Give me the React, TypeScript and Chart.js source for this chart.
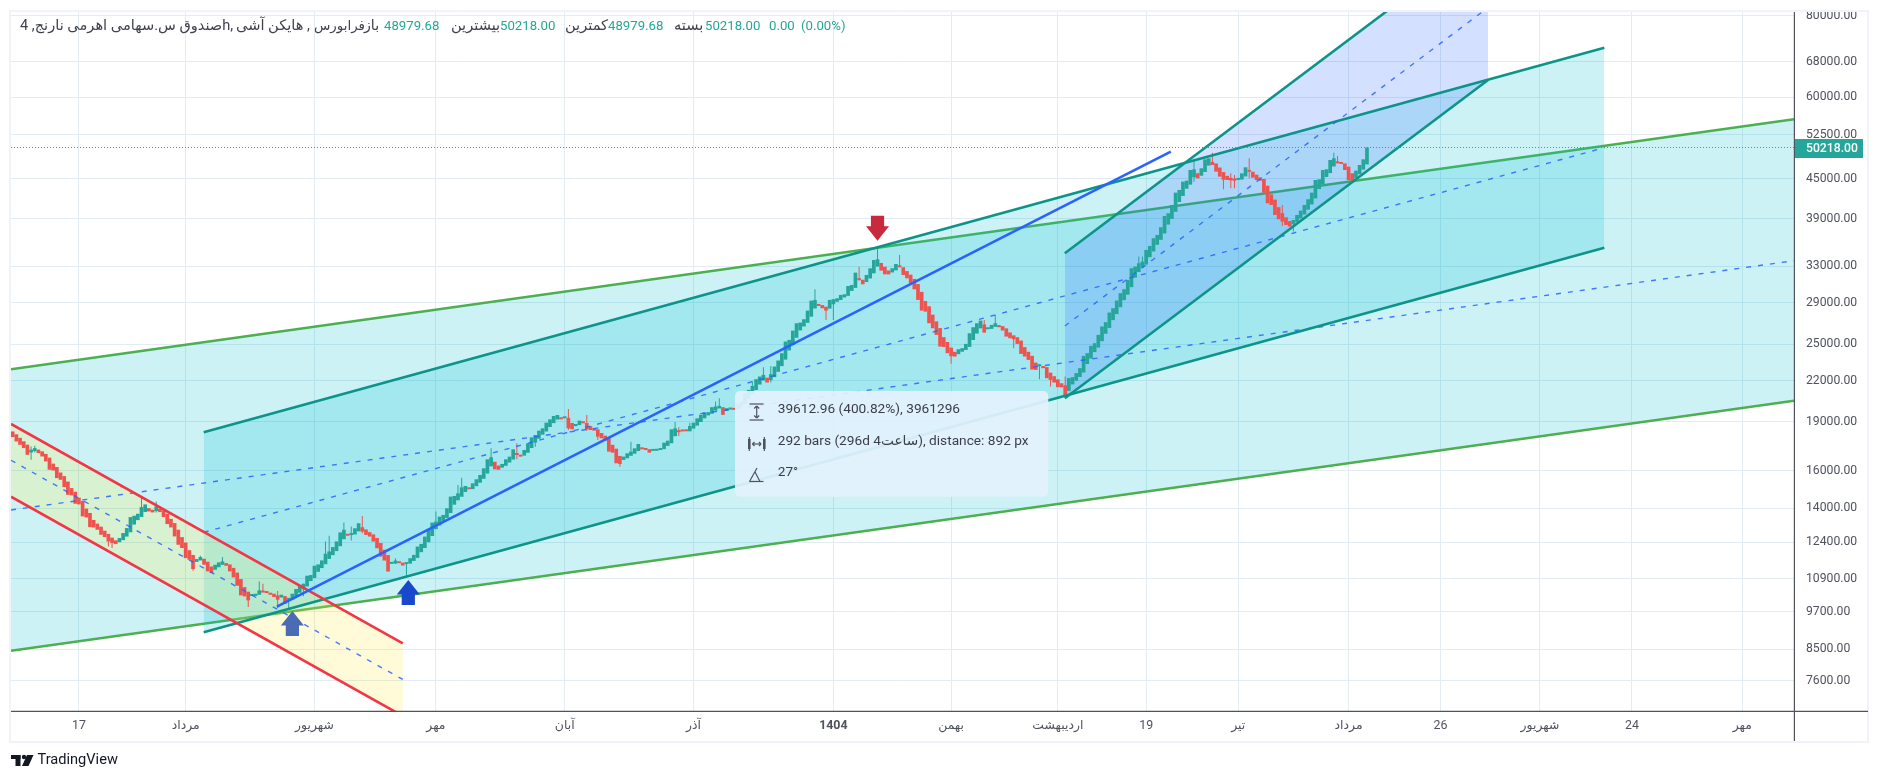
import React, { useEffect, useRef } from "react";
import { Chart, registerables } from "chart.js";

Chart.register(...registerables);

// ---------- values ----------
const firstOpen = 18370;
const closes = [
  18005, 17730, 17523, 17318, 16913, 17053, 17318, 17013, 16814, 16520, 16039, 16000, 15573, 15481, 15085, 14680, 14646, 14220, 14187, 13597,
  13549, 13093, 13078, 12970, 12742, 12637, 12445, 12372, 12328, 12593, 12818, 13047, 13565, 13629, 13726, 14054, 14187, 13840, 13791, 14087,
  13807, 13565, 13233, 13078, 12667, 12299, 12155, 11732, 11663, 11285, 11691, 11774, 11458, 11192, 11126, 11458, 11553, 11594, 11418, 11192,
  10956, 10638, 10280, 10244, 10100, 10268, 10341, 10463, 10402, 10365, 10304, 10220, 10124, 10304, 9982, 10148, 10341, 10513, 10638, 10714,
  11021, 11047, 11418, 11472, 11636, 11914, 12012, 12198, 12445, 12848, 12970, 12697,
  12780, 13039, 13271, 12886, 12735, 12660, 12438, 12148, 11795, 11630, 11185, 11493, 11630, 11520, 11426, 11520, 11726, 11865,
  12220, 12336, 12660, 12962, 13302, 13350, 13588, 13669, 13995, 14585, 14619, 14758, 15075, 15146, 14968, 15289, 15507, 15747, 16123, 16645,
  16763, 16065, 16040, 16373, 16645, 16803, 17244, 16902, 16803, 17204, 17614, 17993, 18142, 18422, 18576, 18951, 19176, 19404, 19473, 19176,
  19312, 18576, 18510, 18862, 19086, 18907, 18510, 18466, 18422, 18035, 17930, 17782, 17103, 17042, 16411, 16373, 16803, 17002, 17103, 17306,
  17573, 17244, 17204, 17042, 17163, 17244, 17306, 17656, 17782, 18510, 18576, 18422, 18400, 18378, 18730, 18951, 19244, 19490,
  19646, 19670, 20020, 20067, 20115, 19485, 19950, 19996, 19832, 20257, 20425, 21036, 21286, 21589, 22104, 22314, 22446, 21845, 22500, 23118,
  23614, 24234, 25255, 25405, 26258, 26948, 27012, 27332, 28183, 29198, 29267, 28651, 28417, 28183, 29267, 29336, 29440, 29790, 29860, 30752,
  30861, 32240, 31488, 30936, 31974, 32738, 33717, 33796, 32469, 32050, 32040, 32738, 33242, 32854, 31974, 31600, 31045, 30393, 29267, 28183,
  28083, 26948, 26476, 25858, 24813, 24780, 24234, 23980, 23950, 24580, 24668, 25048, 26011, 26570, 26948, 27204, 26072, 26382, 26790, 26948,
  26570, 26258, 25706, 25555, 25465, 25048, 24177, 23950, 23670, 22870, 22847, 23172, 22982, 22183, 22052, 21845, 21488, 21470, 20790,
  22188, 22267, 22583, 22986, 24012, 24239, 24876, 25112, 25865, 26638, 27050, 27990, 28423, 29205, 29973, 30400, 31421, 32745, 32939, 33329,
  33527, 34940, 35438, 36413, 36845, 37858, 39407, 39780, 40971, 42798, 43204, 44497, 44655, 46372, 46482, 45025, 46647, 48156, 48327, 47200,
  46100, 45291, 44800, 44760, 44700, 44650, 44866, 45828, 46812, 46100, 45130, 44760, 44655, 42798, 41213, 40971, 39547, 38945, 38625, 38172,
  37947, 38853, 39547, 40157, 40971, 41801, 42798, 44760, 44866, 46372, 46482, 48042, 48327, 47479, 47367, 46372, 44760, 44340, 46263, 47200,
  48156, 50218,
];

const wickIndex = [5, 6, 26, 27, 35, 39, 49, 51, 57, 64, 67, 68, 72, 75, 79, 85, 86, 90, 92, 95, 104, 107, 115, 121, 122, 130, 137, 142, 151, 156, 159, 165, 168, 180, 181, 184, 191, 192, 201, 204, 206, 218, 221, 223, 230, 235, 241, 255, 264, 267, 272, 279, 282, 286, 306, 307, 321, 326, 329, 331, 332, 336, 345, 348, 359, 360];
const wickHigh = [17420, 17461, 12500, 12400, 14628, 14338, 11663, 11830, 11774, 10240, 10802, 10714, 10438, 10148, 10714, 12445, 12697, 13311, 13116, 13620, 11726, 11520, 13830, 15200, 15593, 17306, 17614, 18142, 19894, 19473, 18510, 16411, 17719, 19000, 18640, 18951, 20425, 20668, 21923, 23064, 23172, 30393, 28417, 29336, 32931, 35137, 34319, 24000, 27268, 27754, 25555, 23300, 22183, 22314, 34125, 34125, 48156, 49306, 45291, 45828, 45560, 48327, 40971, 38853, 49306, 48727];
const wickLow = [16617, 17053, 12227, 12155, 13726, 13791, 11217, 11691, 11500, 9865, 10440, 10402, 9830, 9830, 10244, 11636, 11914, 12848, 12482, 12810, 11493, 11026, 13302, 14758, 15075, 16645, 16645, 17408, 18466, 18422, 17824, 16218, 17002, 18510, 18078, 18378, 20020, 20067, 21589, 22314, 21845, 29198, 27268, 27268, 31340, 33717, 32854, 23338, 26072, 26790, 24667, 22104, 21538, 20740, 32939, 33329, 44497, 47200, 43306, 43460, 43460, 45025, 38037, 37282, 48042, 47479];

const priceTicks = [80000, 68000, 60000, 52500, 45000, 39000, 33000, 29000, 25000, 22000, 19000, 16000, 14000, 12400, 10900, 9700, 8500, 7600];
const timeBars = [18, 47, 82, 115, 150, 185, 223, 255, 284, 308, 333, 363, 388, 415, 440, 470];
const timeLabels = ["17", "مرداد", "شهریور", "مهر", "آبان", "آذر", "1404", "بهمن", "اردیبهشت", "19", "تیر", "مرداد", "26", "شهریور", "24", "مهر"];

const xRange = [-0.46, 484.04];
const yRange = [6826, 81141];
const lastPrice = 50218;

// channels: bar index at each end, price at each end
const greenX = [-0.46, 484.04];
const greenTop = [22893, 55489];
const greenMid = [13909, 33630];
const greenBottom = [8451, 20484];
const tealX = [51.9, 432.5];
const tealTop = [18315, 71504];
const tealMid = [12853, 50180];
const tealBottom = [9020, 35215];
const redX = [-0.46, 106];
const redTop = [18862, 8676];
const redMid = [16587, 7632];
const redBottom = [14581, 6706];
const blueX = [285.9, 400.9];
const blueTop = [34523, 106590];
const blueMid = [26687, 82445];
const blueBottom = [20660, 63775];
const trendX = [71.8, 314.7];
const trendY = [9876, 49474];

const arrowBars = [76, 107.5, 235];
const arrowPrices = [9727, 10856, 36100];
const arrowDirs = ["up", "up", "down"];
const arrowColors = ["#4a6cb3", "#1848cc", "#c8293c"];

// text, left edge, green?, font size
const legendParts: [string, number, boolean, number][] = [
  ["صندوق س.سهامی اهرمی نارنج, 4h,", 20, false, 14.6],
  ["هایکن آشی", 236, false, 14.6],
  [",", 307, false, 14.6],
  ["فرابورس", 314, false, 13.4],
  ["باز", 364, false, 14.2],
  ["48979.68", 384, true, 13.2],
  ["بیشترین", 451, false, 14.6],
  ["50218.00", 500, true, 13.2],
  ["کمترین", 565, false, 14.6],
  ["48979.68", 608, true, 13.2],
  ["بسته", 674, false, 14.6],
  ["50218.00", 705, true, 13.2],
  ["0.00", 769, true, 13.2],
  ["(0.00%)", 801, true, 13.2],
];
const measureLines = ["39612.96 (400.82%), 3961296", "292 bars (296d 4ساعت), distance: 892 px", "27°"];

// ---------- styles ----------
const FONT = "Roboto, 'Noto Sans', 'DejaVu Sans', sans-serif";
const UP = "#26a69a";
const DOWN = "#ef5350";
const GRID = "#e2ecf2";
const TEXT = "#50535e";
const TEAL = "#0d9488";

const pts = (xs: number[], ys: number[]) => xs.map((x, i) => ({ x, y: ys[i] }));

function buildDatasets() {
  const list: any[] = [];
  const add = (ds: any) => {
    list.push({ type: "line", pointRadius: 0, tension: 0, ...ds, order: 1000 - list.length });
    return list.length - 1;
  };
  const solid = (xs: number[], ys: number[], color: string, w = 2.6) =>
    add({ data: pts(xs, ys), borderColor: color, borderWidth: w, fill: false });
  const dash = (xs: number[], ys: number[]) =>
    add({ data: pts(xs, ys), borderColor: "rgba(41,98,255,0.85)", borderWidth: 1.4, borderDash: [5, 7], fill: false });
  const band = (xs: number[], a: number[], b: number[], color: string) => {
    const lower = add({ data: pts(xs, b), borderWidth: 0, borderColor: "transparent", fill: false });
    add({ data: pts(xs, a), borderWidth: 0, borderColor: "transparent", fill: lower, backgroundColor: color });
  };

  band(greenX, greenTop, greenBottom, "rgba(0,188,212,0.2)");
  solid(greenX, greenTop, "#4caf50");
  solid(greenX, greenBottom, "#4caf50");
  band(tealX, tealTop, tealBottom, "rgba(0,188,212,0.2)");
  band(redX, redTop, redBottom, "rgba(255,235,59,0.2)");
  band(blueX, blueTop, blueBottom, "rgba(41,98,255,0.2)");

  // Heikin Ashi candles: each body opens at the middle of the previous body
  const opens: number[] = [];
  closes.forEach((_, i) => {
    opens.push(i === 0 ? firstOpen : (opens[i - 1] + closes[i - 1]) / 2);
  });
  const colorOf = (i: number) => (closes[i] >= (i === 0 ? firstOpen : closes[i - 1]) ? UP : DOWN);

  list.push({
    type: "bar",
    grouped: false,
    barThickness: 1,
    inflateAmount: 0,
    borderWidth: 0,
    data: wickIndex.map((b, i) => ({ x: b, y: [wickLow[i], wickHigh[i]] })),
    backgroundColor: wickIndex.map((b) => colorOf(b)),
    order: 1000 - list.length,
  });
  list.push({
    type: "bar",
    grouped: false,
    barThickness: 3.7,
    minBarLength: 2,
    inflateAmount: 0,
    borderWidth: 0,
    data: closes.map((c, i) => ({ x: i, y: [opens[i], c] })),
    backgroundColor: closes.map((_, i) => colorOf(i)),
    order: 1000 - list.length,
  });

  dash(greenX, greenMid);
  solid(tealX, tealTop, TEAL);
  solid(tealX, tealBottom, TEAL);
  dash(tealX, tealMid);
  solid(redX, redTop, "#f23645");
  solid(redX, redBottom, "#f23645");
  dash(redX, redMid);
  solid(blueX, blueTop, TEAL);
  solid(blueX, blueBottom, TEAL);
  dash(blueX, blueMid);
  solid(trendX, trendY, "#2962ff");
  add({ data: pts(xRange, [lastPrice, lastPrice]), borderColor: UP, borderWidth: 1, borderDash: [1, 2], fill: false });
  return list;
}

function drawArrow(ctx: CanvasRenderingContext2D, x: number, y: number, dir: string, color: string) {
  const s = dir === "up" ? 1 : -1;
  ctx.fillStyle = color;
  ctx.beginPath();
  ctx.moveTo(x, y);
  ctx.lineTo(x + 11.5, y + s * 14.5);
  ctx.lineTo(x + 6.6, y + s * 14.5);
  ctx.lineTo(x + 6.6, y + s * 25);
  ctx.lineTo(x - 6.6, y + s * 25);
  ctx.lineTo(x - 6.6, y + s * 14.5);
  ctx.lineTo(x - 11.5, y + s * 14.5);
  ctx.closePath();
  ctx.fill();
}

function drawMeasureIcons(ctx: CanvasRenderingContext2D) {
  ctx.strokeStyle = "#50535e";
  ctx.fillStyle = "#50535e";
  ctx.lineWidth = 1.2;
  const cx = 756.7;
  const seg = (a: number, b: number, c: number, d: number) => {
    ctx.beginPath();
    ctx.moveTo(a, b);
    ctx.lineTo(c, d);
    ctx.stroke();
  };
  seg(749.5, 404, 763.5, 404);
  seg(749.5, 420, 763.5, 420);
  seg(cx, 406, cx, 418);
  seg(cx - 2.5, 408.5, cx, 406);
  seg(cx + 2.5, 408.5, cx, 406);
  seg(cx - 2.5, 415.5, cx, 418);
  seg(cx + 2.5, 415.5, cx, 418);
  ctx.fillRect(748, 439, 2.6, 10);
  ctx.fillRect(763, 439, 2.6, 10);
  seg(749.3, 437, 749.3, 451);
  seg(764.3, 437, 764.3, 451);
  seg(752.5, 444, 761, 444);
  seg(752.5, 444, 754.5, 442);
  seg(752.5, 444, 754.5, 446);
  seg(761, 444, 759, 442);
  seg(761, 444, 759, 446);
  seg(749.5, 481.5, 763.5, 481.5);
  seg(749.5, 481.5, 757, 468);
  seg(755, 472, 760, 481.5);
}

const overlay = {
  id: "overlay",
  afterDatasetsDraw(chart: any) {
    const { ctx, scales } = chart;
    const x = scales.x;
    const y = scales.y;
    ctx.save();

    arrowBars.forEach((b, i) =>
      drawArrow(ctx, x.getPixelForValue(b), y.getPixelForValue(arrowPrices[i]), arrowDirs[i], arrowColors[i])
    );

    // measure box
    ctx.fillStyle = "rgba(227,242,253,0.92)";
    ctx.beginPath();
    ctx.roundRect(735, 391, 313.3, 105.7, 5);
    ctx.fill();
    drawMeasureIcons(ctx);
    ctx.fillStyle = "#3b3e49";
    ctx.font = `13.7px ${FONT}`;
    ctx.textBaseline = "middle";
    ctx.textAlign = "left";
    [410, 441.7, 472.7].forEach((ty, i) => ctx.fillText(measureLines[i], 777.7, ty));

    // legend row
    legendParts.forEach(([t, px, green, size]) => {
      ctx.font = `${size}px ${FONT}`;
      ctx.fillStyle = green ? UP : "#3f424d";
      ctx.fillText(t, px, 26.5);
    });

    // frame and axis lines
    ctx.strokeStyle = "#f0f3fa";
    ctx.lineWidth = 2;
    ctx.strokeRect(10, 11, 1858, 731);
    ctx.strokeStyle = "#50535e";
    ctx.lineWidth = 1.2;
    ctx.beginPath();
    ctx.moveTo(11, 711.3);
    ctx.lineTo(1868, 711.3);
    ctx.moveTo(1794.4, 12);
    ctx.lineTo(1794.4, 741);
    ctx.stroke();

    // last price tag
    ctx.fillStyle = UP;
    ctx.fillRect(1795, 139, 68, 19);
    ctx.fillStyle = "#ffffff";
    ctx.font = `500 12.2px ${FONT}`;
    ctx.fillText("50218.00", 1806, 148.5);

    // logo
    ctx.fillStyle = "#131722";
    ctx.fillRect(11, 755, 9.5, 4);
    ctx.fillRect(15.5, 755, 5, 11);
    ctx.beginPath();
    ctx.arc(24, 757, 2.2, 0, Math.PI * 2);
    ctx.fill();
    ctx.beginPath();
    ctx.moveTo(27, 755);
    ctx.lineTo(33.5, 755);
    ctx.lineTo(28.5, 766);
    ctx.lineTo(22, 766);
    ctx.closePath();
    ctx.fill();
    ctx.font = `14.6px ${FONT}`;
    ctx.fillText("TradingView", 37.5, 760.5);
    ctx.restore();
  },
};

export default function App() {
  const ref = useRef<HTMLCanvasElement | null>(null);
  useEffect(() => {
    if (!ref.current) return;
    const chart = new Chart(ref.current, {
      type: "line",
      data: { datasets: buildDatasets() },
      plugins: [overlay],
      options: {
        responsive: false,
        animation: false,
        devicePixelRatio: 1,
        events: [],
        layout: { padding: { left: 11, top: 12, right: 10, bottom: 40 } },
        plugins: { legend: { display: false }, tooltip: { enabled: false } },
        scales: {
          x: {
            type: "linear",
            bounds: "data",
            min: xRange[0],
            max: xRange[1],
            offset: false,
            afterBuildTicks: (axis: any) => {
              axis.ticks = timeBars.map((value) => ({ value }));
            },
            afterFit: (axis: any) => {
              axis.height = 30;
              axis.paddingLeft = 0;
              axis.paddingRight = 0;
            },
            grid: { color: GRID, lineWidth: 1, offset: false, drawTicks: false },
            border: { display: false },
            ticks: {
              autoSkip: false,
              maxRotation: 0,
              minRotation: 0,
              padding: 7,
              color: TEXT,
              font: (c: any) => ({ family: FONT, size: 12.4, weight: c.tick && c.tick.value === 223 ? "700" : "400" }),
              callback: (v: any) => {
                const i = timeBars.indexOf(v);
                return i >= 0 ? timeLabels[i] : "";
              },
            },
          },
          y: {
            type: "logarithmic",
            position: "right",
            bounds: "data",
            min: yRange[0],
            max: yRange[1],
            beginAtZero: false,
            afterBuildTicks: (axis: any) => {
              axis.ticks = priceTicks.map((value) => ({ value }));
            },
            afterFit: (axis: any) => {
              axis.width = 75;
              axis.paddingTop = 0;
              axis.paddingBottom = 0;
            },
            grid: { color: GRID, lineWidth: 1, drawTicks: false },
            border: { display: false },
            ticks: {
              autoSkip: false,
              padding: 12,
              color: TEXT,
              font: { family: FONT, size: 12.2 },
              callback: (v: any) => Number(v).toFixed(2),
            },
          },
        },
      } as any,
    } as any);
    return () => chart.destroy();
  }, []);

  return (
    <div style={{ position: "absolute", left: 0, top: 0, width: 1879, height: 781, overflow: "hidden", background: "#fff" }}>
      <canvas ref={ref} width={1879} height={781} style={{ display: "block" }} />
    </div>
  );
}
